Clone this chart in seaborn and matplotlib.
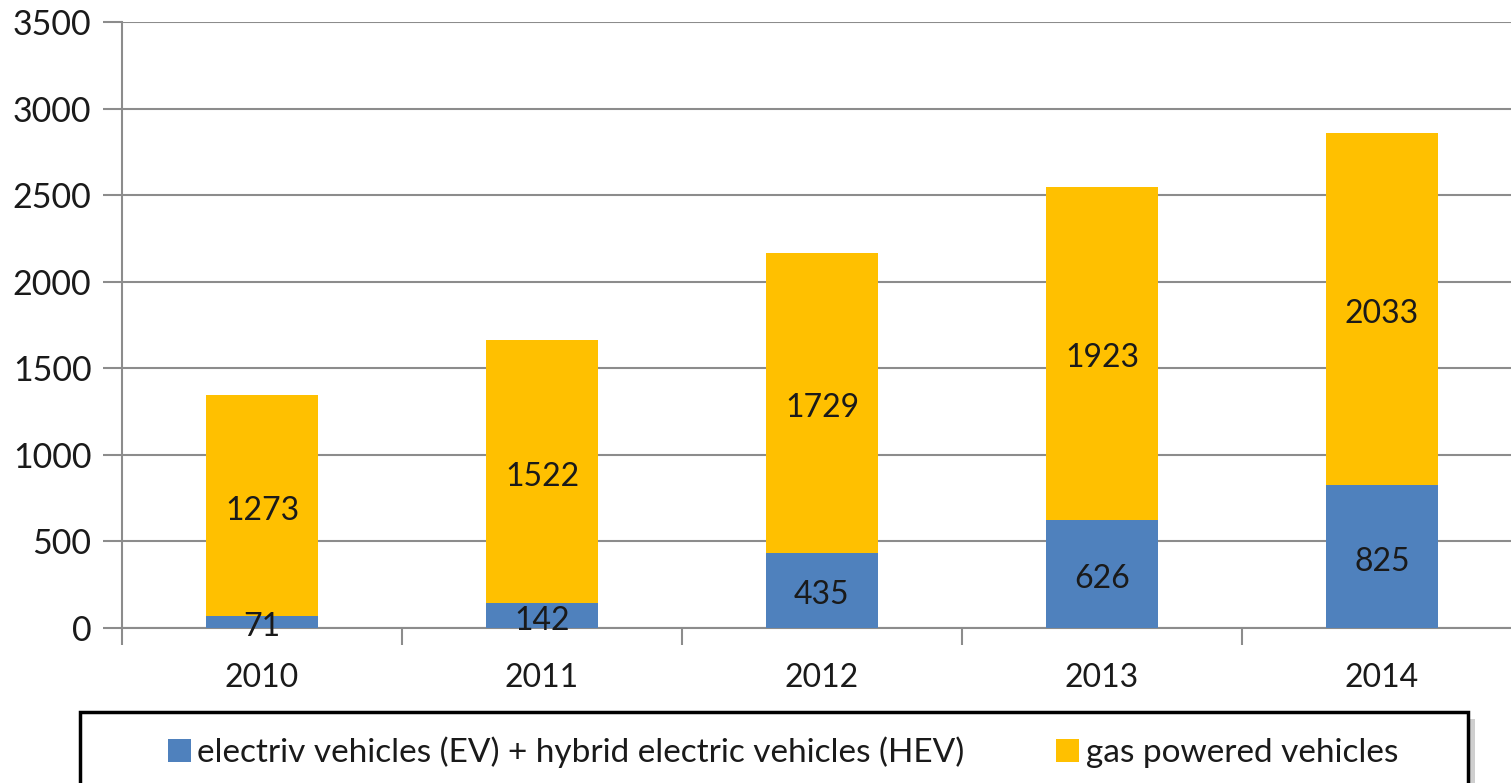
import matplotlib
matplotlib.use('Agg')

import matplotlib.pyplot as plt
from matplotlib.patches import Rectangle
from matplotlib import transforms
import numpy as np
import pandas as pd
import seaborn as sns

# === Data ===
years = ["2010", "2011", "2012", "2013", "2014"]
ev_hev = [71, 142, 435, 626, 825]
gas = [1273, 1522, 1729, 1923, 2033]
yticks = [0, 500, 1000, 1500, 2000, 2500, 3000, 3500]

BLUE = "#4F81BD"
YELLOW = "#FFC000"
GRID = "#8C8C8C"
TXT = "#1a1a1a"

sns.set_theme(style="white")
plt.rcParams['font.family'] = ['Lato', 'DejaVu Sans']

df = pd.DataFrame({"year": years, "ev": ev_hev, "gas": gas})
df["total"] = df["ev"] + df["gas"]

W, H = 1511, 783
fig = plt.figure(figsize=(W / 100, H / 100), dpi=100)
ax = fig.add_axes([122 / W, 1 - 628 / H, 1400 / W, 606 / H])

# stacked bars: total (yellow) behind, EV+HEV (blue) in front
sns.barplot(data=df, x="year", y="total", color=YELLOW, width=0.4,
            saturation=1, linewidth=0, ax=ax, zorder=3,
            label="gas powered vehicles")
sns.barplot(data=df, x="year", y="ev", color=BLUE, width=0.4,
            saturation=1, linewidth=0, ax=ax, zorder=3,
            label="electriv vehicles (EV) + hybrid electric vehicles (HEV)")

# === Value labels (nudged down a few px like Excel) ===
shift = transforms.offset_copy(ax.transData, fig=fig, x=0, y=-5, units="dots")
for i, (e, g) in enumerate(zip(ev_hev, gas)):
    ax.text(i, e / 2, str(e), ha="center", va="center", fontsize=23,
            color=TXT, zorder=5, transform=shift)
    ax.text(i, e + g / 2, str(g), ha="center", va="center", fontsize=23,
            color=TXT, zorder=5, transform=shift)

# === Axes styling ===
ax.set_xlim(-0.5, len(years) - 0.5)
ax.set_ylim(0, 3500)
ax.set_yticks(yticks)
ax.set_yticklabels([str(t) for t in yticks])
ax.yaxis.grid(True, color=GRID, linewidth=1.5, zorder=0)
ax.set_axisbelow(True)
ax.set_xlabel("")
ax.set_ylabel("")

for side in ["top", "right"]:
    ax.spines[side].set_visible(False)
for side in ["left", "bottom"]:
    ax.spines[side].set_color(GRID)
    ax.spines[side].set_linewidth(1.5)

ax.tick_params(axis="y", which="major", length=14, width=1.5, color=GRID,
               labelsize=24.5, labelcolor=TXT, pad=8, left=True)
ax.set_xticks(np.arange(-0.5, len(years)), minor=True)
ax.tick_params(axis="x", which="minor", length=12, width=1.5, color=GRID,
               bottom=True)
ax.tick_params(axis="x", which="major", length=0, labelsize=23,
               labelcolor=TXT, pad=25)

# === Legend with framed box (cropped at bottom) ===
if ax.get_legend():
    ax.get_legend().remove()
handles, labels = ax.get_legend_handles_labels()
order = [1, 0]
shadow = Rectangle((87 / W, -0.05), (1468 - 80) / W, (1 - 712 / H) + 0.05 - 7 / H,
                   transform=fig.transFigure, facecolor="#b0b0b0",
                   edgecolor="none", alpha=0.6, zorder=0)
box = Rectangle((80 / W, -0.05), (1468 - 80) / W, (1 - 712 / H) + 0.05,
                transform=fig.transFigure, facecolor="white",
                edgecolor="black", linewidth=2.5, zorder=1)
fig.patches.extend([shadow, box])
leg = fig.legend([handles[i] for i in order], [labels[i] for i in order],
                 loc="center left", bbox_to_anchor=(168 / W, 1 - 752 / H),
                 ncol=2, frameon=False, fontsize=24, handlelength=0.68,
                 handleheight=0.68, handletextpad=0.2, columnspacing=2.75,
                 borderpad=0, borderaxespad=0)
for t in leg.get_texts():
    t.set_color(TXT)

plt.savefig("out.png", dpi=100)
